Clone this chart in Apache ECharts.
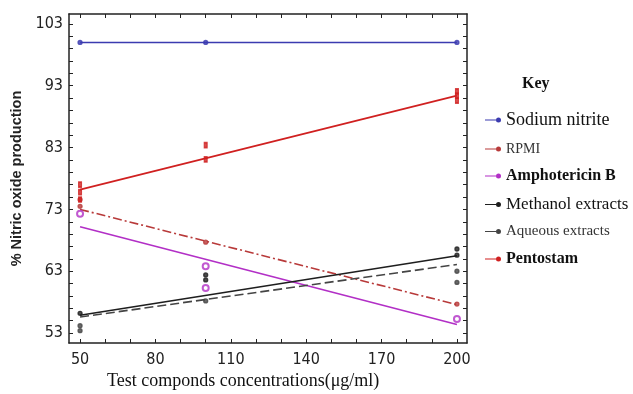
<!DOCTYPE html>
<html><head><meta charset="utf-8">
<script src="https://cdn.jsdelivr.net/npm/echarts@6/dist/echarts.min.js"></script>
<style>html,body{margin:0;padding:0;background:#fff}#c{width:633px;height:394px}</style>
</head><body><div id="c"></div>
<script>
// fitted lines (x at ends)
const fitX = [50, 200];
const sodiumFit = [100, 100];
const rpmiFit = [73, 57.6];
const amphoFit = [70.2, 54.4];
const methanolFit = [55.9, 65.5];
const aqueousFit = [55.6, 64.1];
const pentostamFit = [76.2, 91.4];
// observed points [x, y]
const sodiumPts = [[50,100],[100,100],[200,100]];
const rpmiPts = [[50,73.5],[50,74.6],[100,67.7],[200,57.7]];
const amphoPts = [[50,72.3],[100,63.8],[100,60.3],[200,55.3]];
const methanolPts = [[50,56.2],[100,62.4],[100,61.6],[200,65.6],[200,66.6]];
const aqueousPts = [[50,54.2],[50,53.4],[100,58.2],[200,63.0],[200,61.2]];
const pentostamPts = [[50,74.6],[50,75.8],[50,77],[100,81.1],[100,83.4],[200,90.6],[200,91.4],[200,92.1]];
const xLabels = [50, 80, 110, 140, 170, 200];
const xTicks = [50,60,70,80,90,100,110,120,130,140,150,160,170,180,190,200];
const yLabels = [53, 63, 73, 83, 93, 103];
const yTicks = [53,55,57,59,61,63,65,67,69,71,73,75,77,79,81,83,85,87,89,91,93,95,97,99,101,103];

const names = ['Sodium nitrite','RPMI','Amphotericin B','Methanol extracts','Aqueous extracts','Pentostam'];
const colors = ['#3b3bb0','#b83a3a','#b22fc6','#1e1e1e','#444444','#d02020'];
const fits = [sodiumFit, rpmiFit, amphoFit, methanolFit, aqueousFit, pentostamFit];
const pts = [sodiumPts, rpmiPts, amphoPts, methanolPts, aqueousPts, pentostamPts];
const dashes = ['solid',[9,3,2,3],'solid','solid',[9,4],'solid'];
const syms = ['circle','circle','emptyCircle','circle','circle','rect'];
const legendY = [117, 145, 173, 201, 228, 256];
const legendFont = [
  {fontSize:18, fontWeight:'normal', color:'#111'},
  {fontSize:14, fontWeight:'normal', color:'#333'},
  {fontSize:16, fontWeight:'bold', color:'#111'},
  {fontSize:17, fontWeight:'normal', color:'#111'},
  {fontSize:15, fontWeight:'normal', color:'#333'},
  {fontSize:16, fontWeight:'bold', color:'#111'}
];

const series = [];
names.forEach((n,i)=>{
  series.push({
    name:n, type:'line', xAxisIndex:0, yAxisIndex:0,
    data: fitX.map((x,k)=>[x, fits[i][k]]),
    showSymbol:false, symbol:'circle', symbolSize:5,
    lineStyle:{color:colors[i], width:1.6, type:dashes[i]},
    itemStyle:{color:colors[i]}, z:3, animation:false
  });
  series.push({
    name:n, type:'scatter', xAxisIndex:0, yAxisIndex:0,
    data: pts[i], symbol:syms[i], symbolSize: syms[i]==='rect'?[3,5]:(syms[i]==='emptyCircle'?6:4),
    itemStyle:{color:colors[i], borderColor:colors[i], borderWidth:1.3}, z:4, animation:false
  });
});

const legendIcon = 'path://M0,1.9L11,1.9L11,3.1L0,3.1Z M11,2.5A2.5,2.5 0 1,1 16,2.5A2.5,2.5 0 1,1 11,2.5Z';
const legends = names.map((n,i)=>({
  data:[n], left:480, top:legendY[i]-Math.round(legendFont[i].fontSize*0.6), orient:'vertical',
  itemWidth:16, itemHeight:5, itemGap:0,
  textStyle:Object.assign({fontFamily:'"Liberation Serif","Times New Roman",serif'}, legendFont[i]),
  icon:legendIcon
}));

const fontNarrow = '"Liberation Sans Narrow","DejaVu Sans Condensed","Liberation Sans",sans-serif';
const chart = echarts.init(document.getElementById('c'));
chart.setOption({
  animation:false,
  backgroundColor:'#fff',
  grid:{left:69, right:166, top:14, bottom:51, show:false},
  legend: legends,
  graphic:[
    {type:'text', left:522, top:76, style:{text:'Key', font:'bold 16px "Liberation Serif",serif', fill:'#111'}},
    {type:'text', left:107, top:372, style:{text:'Test componds concentrations(μg/ml)', font:'18px "Liberation Serif",serif', fill:'#111'}}
  ],
  xAxis:[
    {type:'value', position:'bottom', min:45.6, max:204,
     axisLine:{show:true, onZero:false, lineStyle:{color:'#222', width:1.5}},
     axisTick:{show:true, inside:true, length:4, customValues:xTicks, lineStyle:{color:'#222'}},
     axisLabel:{customValues:xLabels, fontFamily:fontNarrow, fontSize:16, color:'#222', margin:9},
     splitLine:{show:false}},
    {type:'value', position:'top', min:45.6, max:204,
     axisLine:{show:true, onZero:false, lineStyle:{color:'#222', width:1.5}},
     axisTick:{show:true, inside:true, length:4, customValues:xTicks, lineStyle:{color:'#222'}},
     axisLabel:{show:false}, splitLine:{show:false}}
  ],
  yAxis:[
    {type:'value', position:'left', min:51.4, max:104.6,
     name:'% Nitric oxide production', nameLocation:'middle', nameGap:44, nameRotate:90,
     nameTextStyle:{fontFamily:'"Liberation Sans",Arial,sans-serif', fontSize:14.5, fontWeight:'bold', color:'#222'},
     axisLine:{show:true, onZero:false, lineStyle:{color:'#222', width:1.5}},
     axisTick:{show:true, inside:true, length:4, customValues:yTicks, lineStyle:{color:'#222'}},
     axisLabel:{customValues:yLabels, fontFamily:fontNarrow, fontSize:16, color:'#222', margin:6},
     splitLine:{show:false}},
    {type:'value', position:'right', min:51.4, max:104.6,
     axisLine:{show:true, onZero:false, lineStyle:{color:'#222', width:1.5}},
     axisTick:{show:true, inside:true, length:4, customValues:yTicks, lineStyle:{color:'#222'}},
     axisLabel:{show:false}, splitLine:{show:false}}
  ],
  series: series
});
</script>
</body></html>
